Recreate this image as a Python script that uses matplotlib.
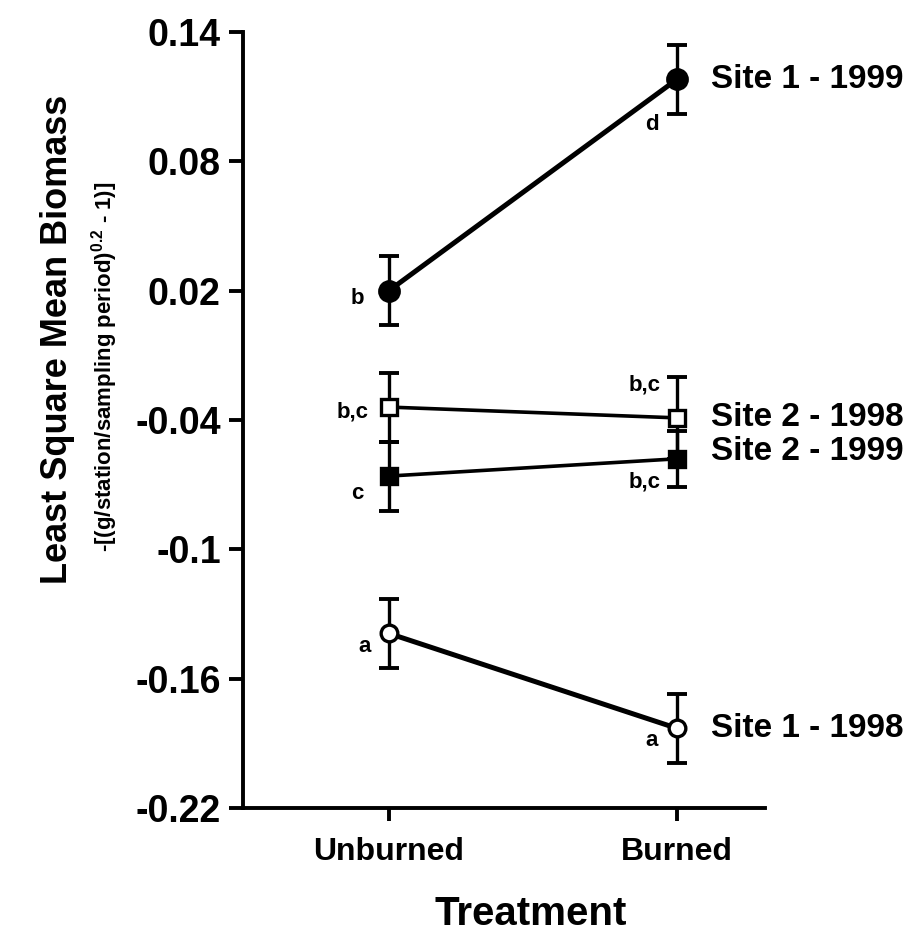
import numpy as np
import matplotlib
matplotlib.use("Agg")
import matplotlib.pyplot as plt

plt.rcParams['font.family'] = ['Liberation Sans', 'DejaVu Sans']
plt.rcParams['mathtext.default'] = 'regular'

treatments = ["Unburned", "Burned"]

# least square means and standard errors per site/year
s1_99 = [0.020, 0.118]
s1_99_err = [0.016, 0.016]
s2_98 = [-0.034, -0.039]
s2_98_err = [0.016, 0.019]
s2_99 = [-0.066, -0.058]
s2_99_err = [0.016, 0.013]
s1_98 = [-0.139, -0.183]
s1_98_err = [0.016, 0.016]

# significance letters (unburned, burned)
s1_99_let = ["b", "d"]
s2_98_let = ["b,c", "b,c"]
s2_99_let = ["c", "b,c"]
s1_98_let = ["a", "a"]

fig = plt.figure(figsize=(9.19, 9.41), dpi=100)
ax = fig.add_axes([0.2644, 0.1413, 0.5676, 0.8247])
x = np.arange(len(treatments))

series = [
    (s1_99, s1_99_err, 'o', 'black', 3.6, 14),
    (s2_98, s2_98_err, 's', 'white', 2.6, 11),
    (s2_99, s2_99_err, 's', 'black', 2.6, 11),
    (s1_98, s1_98_err, 'o', 'white', 3.6, 12),
]
for vals, err, m, fc, lw, ms in series:
    ax.errorbar(x, vals, yerr=err, fmt='none', ecolor='black',
                elinewidth=2.4, capsize=7, capthick=2.8, zorder=2)
    ax.plot(x, vals, color='black', lw=lw, marker=m, markersize=ms,
            markerfacecolor=fc, markeredgecolor='black', markeredgewidth=2.4,
            zorder=3)

# letters next to the points
lk = dict(fontsize=16, fontweight='bold', ha='center', va='center')
ax.text(x[0] - 0.11, s1_99[0] - 0.0037, s1_99_let[0], **lk)
ax.text(x[1] - 0.087, s1_99[1] - 0.021, s1_99_let[1], **lk)
ax.text(x[0] - 0.128, s2_98[0] - 0.0023, s2_98_let[0], **lk)
ax.text(x[1] - 0.111, s2_98[1] + 0.0153, s2_98_let[1], **lk)
ax.text(x[0] - 0.11, s2_99[0] - 0.0079, s2_99_let[0], **lk)
ax.text(x[1] - 0.111, s2_99[1] - 0.0107, s2_99_let[1], **lk)
ax.text(x[0] - 0.083, s1_98[0] - 0.006, s1_98_let[0], **lk)
ax.text(x[1] - 0.087, s1_98[1] - 0.0056, s1_98_let[1], **lk)

# series names on the right
nk = dict(fontsize=24, fontweight='bold', ha='left', va='center', clip_on=False)
ax.text(x[1] + 0.12, s1_99[1], "Site 1 - 1999", **nk)
ax.text(x[1] + 0.12, s2_98[1], "Site 2 - 1998", **nk)
ax.text(x[1] + 0.12, s2_99[1] + 0.0035, "Site 2 - 1999", **nk)
ax.text(x[1] + 0.12, s1_98[1], "Site 1 - 1998", **nk)

ax.set_xlim(-0.507, 1.305)
ax.set_ylim(-0.22, 0.14)
ax.set_xticks(x)
ax.set_xticklabels(treatments, fontsize=23, fontweight='bold')
yt = np.arange(-0.22, 0.1401, 0.06)
ax.set_yticks(yt)
ax.set_yticklabels([f"{v:.2f}".rstrip('0') if abs(v + 0.1) < 1e-9 else f"{v:.2f}" for v in yt],
                   fontsize=27, fontweight='bold')
ax.tick_params(axis='y', direction='out', length=10, width=2.8, pad=6)
ax.tick_params(axis='x', direction='out', length=9, width=2.8, pad=12)

for s in ['top', 'right']:
    ax.spines[s].set_visible(False)
for s in ['left', 'bottom']:
    ax.spines[s].set_linewidth(2.8)

fig.text(0.577, 0.029, "Treatment", fontsize=29, fontweight='bold',
         ha='center', va='center')
fig.text(0.063, 0.639, "Least Square Mean Biomass", fontsize=26,
         fontweight='bold', rotation=90, ha='center', va='center')
fig.text(0.114, 0.61, "-[(g/station/sampling period)$^{0.2}$ - 1)]",
         fontsize=16, fontweight='bold', rotation=90, ha='center', va='center')

fig.savefig("out.png", dpi=100)
